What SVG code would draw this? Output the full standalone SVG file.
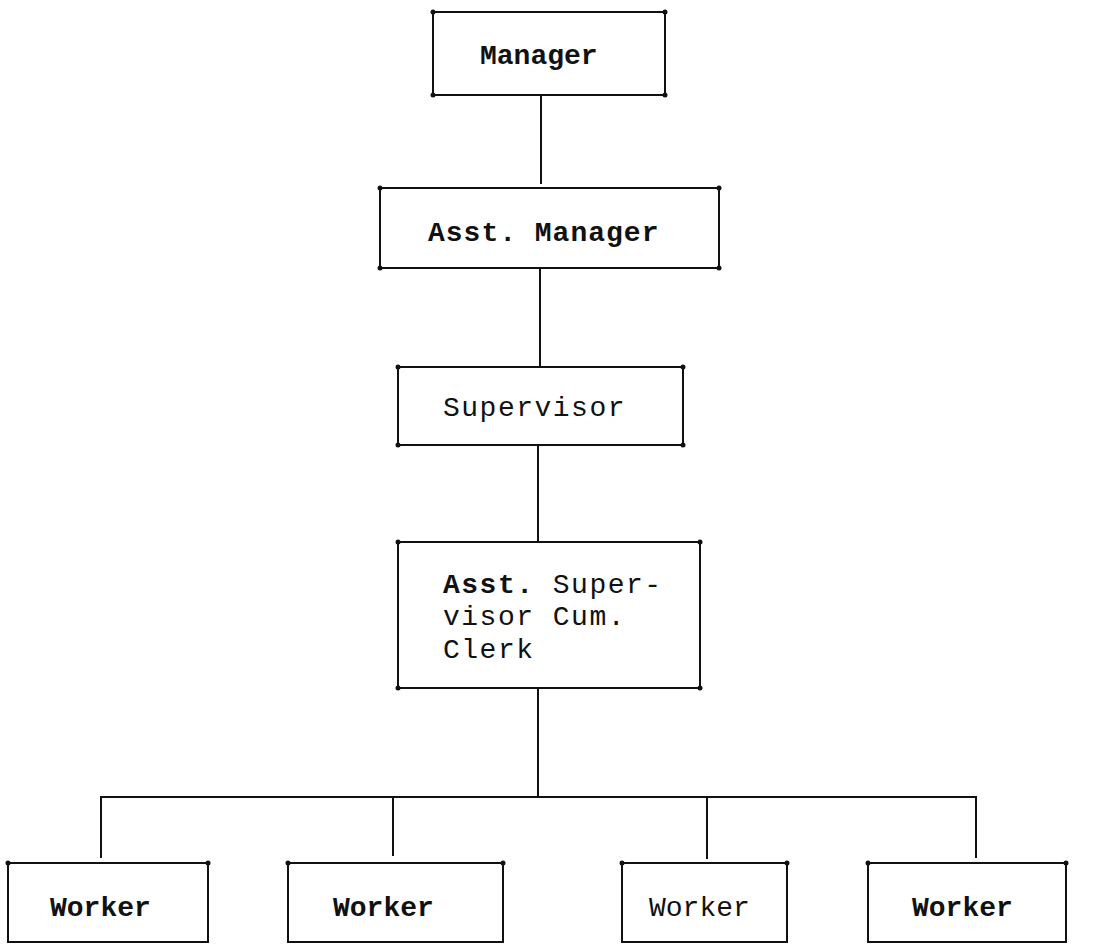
<svg xmlns="http://www.w3.org/2000/svg" width="1108" height="945" viewBox="0 0 1108 945">
<style>
.box{fill:#fff;stroke:#111;stroke-width:2}
.ln{fill:none;stroke:#111;stroke-width:2}
.t{font-family:"Liberation Mono","DejaVu Sans Mono",monospace;font-size:28px;fill:#111}
.b{font-weight:bold}
.dot{fill:#111}
</style>
<defs>
<circle id="d" r="2.5" class="dot"/>
</defs>
<rect width="1108" height="945" fill="#fff"/>
<g id="connectors">
<line class="ln" x1="541" y1="95" x2="541" y2="184"/>
<line class="ln" x1="540" y1="268" x2="540" y2="367"/>
<line class="ln" x1="538" y1="445" x2="538" y2="542"/>
<line class="ln" x1="538" y1="688" x2="538" y2="797"/>
<line class="ln" x1="100" y1="797" x2="977" y2="797"/>
<line class="ln" x1="101" y1="797" x2="101" y2="858"/>
<line class="ln" x1="393" y1="797" x2="393" y2="856"/>
<line class="ln" x1="707" y1="797" x2="707" y2="859"/>
<line class="ln" x1="976" y1="797" x2="976" y2="858"/>
</g>
<g id="manager">
<rect class="box" x="433" y="12" width="232" height="83"/>
<use href="#d" x="433" y="12"/><use href="#d" x="665" y="12"/><use href="#d" x="433" y="95"/><use href="#d" x="665" y="95"/>
<text class="t b" x="480" y="64">Manager</text>
</g>
<g id="asst-manager">
<rect class="box" x="380" y="188" width="339" height="80"/>
<use href="#d" x="380" y="188"/><use href="#d" x="719" y="188"/><use href="#d" x="380" y="268"/><use href="#d" x="719" y="268"/>
<text class="t b" x="428" y="241" style="letter-spacing:1px">Asst. Manager</text>
</g>
<g id="supervisor">
<rect class="box" x="398" y="367" width="285" height="78"/>
<use href="#d" x="398" y="367"/><use href="#d" x="683" y="367"/><use href="#d" x="398" y="445"/><use href="#d" x="683" y="445"/>
<text class="t" x="443" y="416" style="letter-spacing:1.5px">Supervisor</text>
</g>
<g id="asst-supervisor">
<rect class="box" x="398" y="542" width="302" height="146"/>
<use href="#d" x="398" y="542"/><use href="#d" x="700" y="542"/><use href="#d" x="398" y="688"/><use href="#d" x="700" y="688"/>
<text class="t" x="443" y="593" style="letter-spacing:1.5px"><tspan class="b">Asst.</tspan> Super-</text>
<text class="t" x="443" y="625" style="letter-spacing:1.5px">visor Cum.</text>
<text class="t" x="443" y="658" style="letter-spacing:1.5px">Clerk</text>
</g>
<g id="worker1">
<rect class="box" x="8" y="863" width="200" height="79"/>
<use href="#d" x="8" y="863"/><use href="#d" x="208" y="863"/>
<text class="t b" x="50" y="916">Worker</text>
</g>
<g id="worker2">
<rect class="box" x="288" y="863" width="215" height="79"/>
<use href="#d" x="288" y="863"/><use href="#d" x="503" y="863"/>
<text class="t b" x="333" y="916">Worker</text>
</g>
<g id="worker3">
<rect class="box" x="622" y="863" width="165" height="79"/>
<use href="#d" x="622" y="863"/><use href="#d" x="787" y="863"/>
<text class="t" x="649" y="916">Worker</text>
</g>
<g id="worker4">
<rect class="box" x="868" y="863" width="198" height="79"/>
<use href="#d" x="868" y="863"/><use href="#d" x="1066" y="863"/>
<text class="t b" x="912" y="916">Worker</text>
</g>
</svg>
